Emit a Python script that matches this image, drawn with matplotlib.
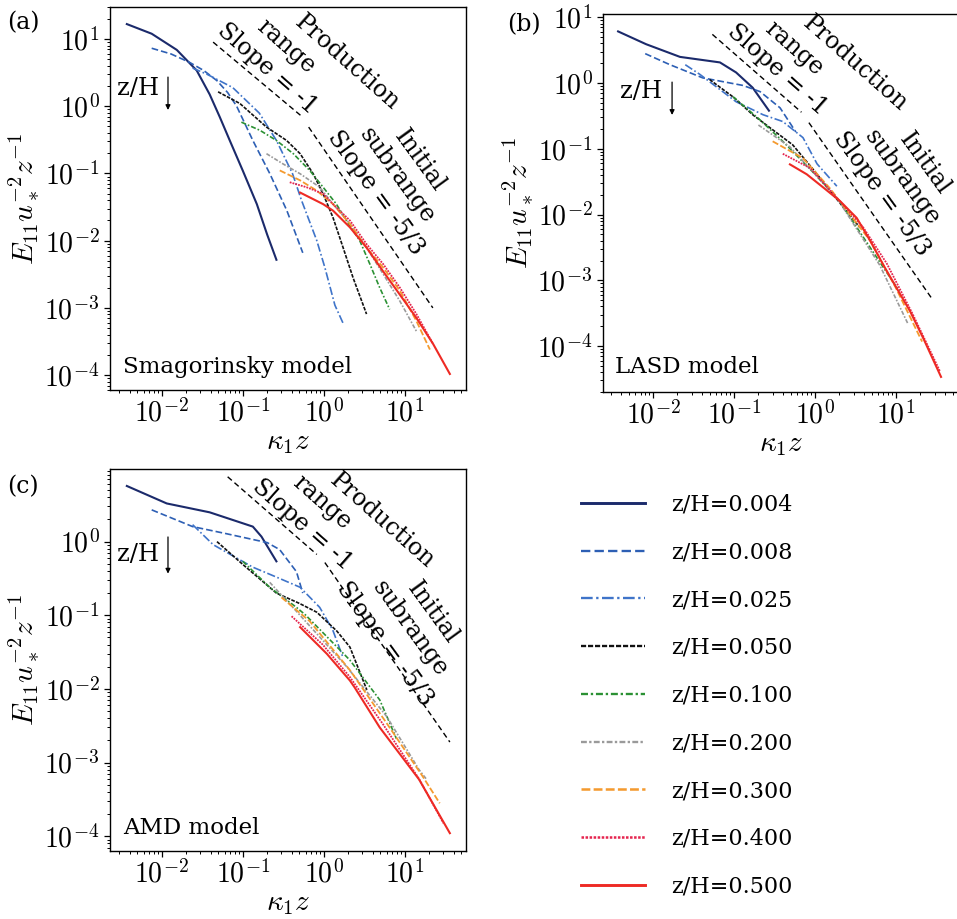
import matplotlib
matplotlib.use("Agg")
import matplotlib.pyplot as plt

plt.rcParams['font.family'] = ['DejaVu Serif']
plt.rcParams['mathtext.fontset'] = 'cm'

# ---------------- data ----------------
heights = ['z/H=0.004', 'z/H=0.008', 'z/H=0.025', 'z/H=0.050', 'z/H=0.100',
           'z/H=0.200', 'z/H=0.300', 'z/H=0.400', 'z/H=0.500']
colors = ['#1b2a6b', '#2d5fb4', '#3f74c9', '#111111', '#2b9134',
          '#9a9a9a', '#f49a2f', '#e5254f', '#ee2a24']

# panel (a) Smagorinsky
smag_x = [
    [0.0037, 0.0075, 0.0153, 0.027, 0.039, 0.052, 0.069, 0.1, 0.149, 0.2, 0.26],
    [0.0075, 0.013, 0.022, 0.033, 0.048, 0.065, 0.084, 0.133, 0.215, 0.35, 0.55],
    [0.024, 0.036, 0.075, 0.16, 0.26, 0.41, 0.53, 0.82, 1.03, 1.37, 1.72],
    [0.0495, 0.092, 0.196, 0.347, 0.51, 0.74, 0.98, 1.3, 1.73, 2.3, 3.37],
    [0.096, 0.162, 0.26, 0.42, 0.67, 0.98, 1.43, 1.9, 2.78, 3.7, 4.9, 6.5],
    [0.196, 0.31, 0.51, 0.89, 1.3, 2.1, 3.37, 5.4, 8.7, 13.9],
    [0.286, 0.51, 0.81, 1.3, 2.1, 3.37, 5.4, 8.7, 13.9, 20.4],
    [0.38, 0.61, 0.98, 1.3, 2.1, 3.37, 5.4, 8.7, 13.9, 22.4],
    [0.51, 0.98, 1.3, 2.1, 3.37, 5.4, 8.7, 13.9, 22.4, 36],
]
smag_y = [
    [16.7, 12, 6.9, 3.4, 1.5, 0.69, 0.31, 0.11, 0.035, 0.0123, 0.0052],
    [7.3, 6.0, 4.5, 3.4, 2.4, 1.6, 1.0, 0.31, 0.1, 0.028, 0.0066],
    [3.7, 3.0, 1.9, 0.79, 0.31, 0.1, 0.04, 0.01, 0.004, 0.0011, 0.0006],
    [1.64, 1.1, 0.49, 0.31, 0.197, 0.099, 0.05, 0.022, 0.0079, 0.0028, 0.00081],
    [0.58, 0.44, 0.31, 0.197, 0.111, 0.0625, 0.035, 0.02, 0.01, 0.0045, 0.002, 0.00095],
    [0.197, 0.14, 0.099, 0.0625, 0.035, 0.0178, 0.0079, 0.0032, 0.00126, 0.00045],
    [0.111, 0.079, 0.056, 0.035, 0.0178, 0.0079, 0.004, 0.0018, 0.00064, 0.00024],
    [0.074, 0.0625, 0.05, 0.035, 0.02, 0.0089, 0.0045, 0.002, 0.00081, 0.00029],
    [0.052, 0.035, 0.028, 0.0158, 0.0079, 0.0035, 0.00157, 0.00071, 0.00029, 0.000104],
]

# panel (b) LASD
lasd_x = [
    [0.0037, 0.0082, 0.0215, 0.067, 0.106, 0.17, 0.27],
    [0.008, 0.0162, 0.041, 0.129, 0.21, 0.37, 0.58],
    [0.025, 0.038, 0.106, 0.228, 0.4, 0.71, 1.06, 1.86],
    [0.05, 0.1, 0.17, 0.53, 1.0, 1.53, 3.6],
    [0.097, 0.2, 0.4, 1.0, 2.0, 6.3, 11],
    [0.2, 0.49, 1.86, 6.3, 14],
    [0.3, 0.71, 1.53, 4.8, 10, 21],
    [0.4, 0.87, 1.86, 3.9, 7.7, 16, 35],
    [0.49, 0.79, 1.27, 2.04, 3.27, 4.8, 7.0, 10.2, 14.9, 21.7, 36],
]
lasd_y = [
    [6.1, 3.9, 2.5, 2.06, 1.45, 0.85, 0.38],
    [2.8, 1.9, 1.2, 0.92, 0.74, 0.42, 0.18],
    [1.9, 1.35, 0.52, 0.33, 0.26, 0.148, 0.059, 0.027],
    [1.13, 0.6, 0.33, 0.115, 0.045, 0.023, 0.0063],
    [0.62, 0.29, 0.13, 0.041, 0.016, 0.0019, 0.00068],
    [0.23, 0.107, 0.018, 0.0017, 0.00022],
    [0.13, 0.072, 0.025, 0.004, 0.00076, 0.000117],
    [0.084, 0.051, 0.018, 0.0065, 0.0018, 0.00031, 0.000041],
    [0.058, 0.041, 0.0257, 0.016, 0.0089, 0.004, 0.0017, 0.00076, 0.00034, 0.000132, 0.000034],
]

# panel (c) AMD
amd_x = [
    [0.0037, 0.0115, 0.039, 0.133, 0.17, 0.26],
    [0.0075, 0.024, 0.063, 0.2, 0.285, 0.46, 0.55],
    [0.024, 0.043, 0.133, 0.26, 0.51, 0.89, 1.29, 1.72],
    [0.048, 0.1, 0.26, 0.5, 0.82, 1.45, 2.1, 3.4],
    [0.1, 0.215, 0.46, 0.6, 2.1, 4.9, 7.9],
    [0.215, 0.46, 1.92, 6.0, 15, 18.6],
    [0.3, 0.67, 2.1, 6.0, 16.6, 27],
    [0.4, 0.97, 2.1, 5.3, 15, 30],
    [0.51, 1.09, 2.1, 2.4, 4.9, 15, 36],
]
amd_y = [
    [5.7, 3.3, 2.5, 1.6, 1.17, 0.54],
    [2.7, 1.6, 1.28, 0.97, 0.78, 0.39, 0.2],
    [1.7, 0.91, 0.45, 0.33, 0.24, 0.128, 0.063, 0.027],
    [1.0, 0.49, 0.2, 0.145, 0.11, 0.061, 0.037, 0.0097],
    [0.54, 0.24, 0.128, 0.1, 0.0246, 0.0071, 0.0021],
    [0.28, 0.113, 0.02, 0.0042, 0.0008, 0.00059],
    [0.175, 0.083, 0.018, 0.0034, 0.00065, 0.00028],
    [0.097, 0.04, 0.0145, 0.0034, 0.0006, 0.00015],
    [0.069, 0.03, 0.013, 0.0105, 0.003, 0.00059, 0.00011],
]

# reference slope lines (end points)
ref1_x = {'a': [0.043, 0.54], 'b': [0.054, 0.68], 'c': [0.065, 0.82]}
ref1_y = {'a': [9.0, 0.70], 'b': [5.5, 0.36], 'c': [7.6, 0.67]}
ref53_x = {'a': [0.65, 22.2], 'b': [0.84, 28.6], 'c': [1.03, 36]}
ref53_y = {'a': [0.49, 1.0e-3], 'b': [0.25, 5.0e-4], 'c': [0.52, 1.9e-3]}

x_ticks = [1e-2, 1e-1, 1e0, 1e1]
x_tick_labels = [r'$10^{-2}$', r'$10^{-1}$', r'$10^{0}$', r'$10^{1}$']
y_ticks_ab = [1e-4, 1e-3, 1e-2, 1e-1, 1e0, 1e1]
y_tick_labels_ab = [r'$10^{-4}$', r'$10^{-3}$', r'$10^{-2}$', r'$10^{-1}$', r'$10^{0}$', r'$10^{1}$']
y_ticks_c = [1e-4, 1e-3, 1e-2, 1e-1, 1e0]
y_tick_labels_c = [r'$10^{-4}$', r'$10^{-3}$', r'$10^{-2}$', r'$10^{-1}$', r'$10^{0}$']

model_names = {'a': 'Smagorinsky model', 'b': 'LASD model', 'c': 'AMD model'}

# ---------------- styles ----------------
styles = [
    dict(ls='-', lw=1.5),
    dict(ls=(0, (4, 1.8)), lw=1.2),
    dict(ls=(0, (5, 1.5, 1, 1.5)), lw=1.2),
    dict(ls=(0, (2.2, 0.8)), lw=1.2),
    dict(ls=(0, (3, 1.2, 1, 1.2)), lw=1.2),
    dict(ls=(0, (2.5, 1, 1, 1)), lw=1.2),
    dict(ls=(0, (3.5, 1.3)), lw=1.3),
    dict(ls=(0, (1, 0.6)), lw=1.3),
    dict(ls='-', lw=1.5),
]

fig = plt.figure(figsize=(9.57, 9.19), dpi=100)
ax_a = fig.add_axes([0.1149, 0.5756, 0.3720, 0.4168])
ax_b = fig.add_axes([0.6301, 0.5734, 0.3720, 0.4113])
ax_c = fig.add_axes([0.1149, 0.0740, 0.3720, 0.4157])

panels = [
    ('a', ax_a, smag_x, smag_y, (0.00229, 56.9), (6.0e-5, 30.0), y_ticks_ab, y_tick_labels_ab),
    ('b', ax_b, lasd_x, lasd_y, (0.00241, 60.0), (2.0e-5, 11.2), y_ticks_ab, y_tick_labels_ab),
    ('c', ax_c, amd_x, amd_y, (0.00229, 56.9), (6.3e-5, 9.7), y_ticks_c, y_tick_labels_c),
]

# text positions (axes fraction) per panel
txt_pos = {
    'a': dict(prod=(0.666, 0.854), rng=(0.494, 0.896), s1=(0.441, 0.838),
              init=(0.871, 0.598), sub=(0.806, 0.559), s53=(0.747, 0.514),
              zh=(0.02, 0.786), arr=(0.163, 0.817, 0.731), model=(0.037, 0.06)),
    'b': dict(prod=(0.708, 0.868), rng=(0.537, 0.910), s1=(0.489, 0.854),
              init=(0.904, 0.603), sub=(0.840, 0.566), s53=(0.784, 0.524),
              zh=(0.048, 0.794), arr=(0.194, 0.820, 0.733), model=(0.034, 0.066)),
    'c': dict(prod=(0.764, 0.866), rng=(0.596, 0.912), s1=(0.539, 0.855),
              init=(0.907, 0.625), sub=(0.843, 0.581), s53=(0.772, 0.541),
              zh=(0.02, 0.775), arr=(0.163, 0.822, 0.726), model=(0.037, 0.06)),
}

handles = []
for key, ax, xs, ys, xl, yl, yt, ytl in panels:
    ax.plot(ref1_x[key], ref1_y[key], color='k', lw=1.0, ls=(0, (4, 2.5)))
    ax.plot(ref53_x[key], ref53_y[key], color='k', lw=1.0, ls=(0, (4, 2.5)))
    hs = []
    for i in range(len(heights)):
        h, = ax.plot(xs[i], ys[i], color=colors[i], label=heights[i], **styles[i])
        hs.append(h)
    if key == 'a':
        handles = hs
    ax.set_xscale('log')
    ax.set_yscale('log')
    ax.set_xlim(*xl)
    ax.set_ylim(*yl)
    ax.set_xticks(x_ticks, x_tick_labels)
    ax.set_yticks(yt, ytl)
    ax.tick_params(axis='both', which='major', labelsize=20, length=4, width=0.9)
    ax.tick_params(axis='x', which='major', pad=2.5)
    ax.tick_params(axis='both', which='minor', length=2.2, width=0.7)
    ax.set_xlabel(r'$\kappa_1 z$', fontsize=21, labelpad=0)
    ax.set_ylabel(r'$E_{11}u_*^{-2}z^{-1}$', fontsize=21, labelpad=2)
    for sp in ax.spines.values():
        sp.set_linewidth(1.0)

    p = txt_pos[key]
    kw = dict(transform=ax.transAxes, fontsize=17, ha='center', va='center',
              rotation_mode='anchor')
    ax.text(*p['prod'], 'Production', rotation=-41.5, **kw)
    ax.text(*p['rng'], 'range', rotation=-41.5, **kw)
    ax.text(*p['s1'], 'Slope = -1', rotation=-41.5, **kw)
    ax.text(*p['init'], 'Initial', rotation=-54, **kw)
    ax.text(*p['sub'], 'subrange', rotation=-54, **kw)
    ax.text(*p['s53'], 'Slope = -5/3', rotation=-54, **kw)
    ax.text(p['zh'][0], p['zh'][1], 'z/H', transform=ax.transAxes, fontsize=17.5,
            ha='left', va='center')
    ax_, y0, y1 = p['arr']
    ax.annotate('', xy=(ax_, y1), xytext=(ax_, y0), xycoords='axes fraction',
                textcoords='axes fraction',
                arrowprops=dict(arrowstyle='-|>', lw=0.9, color='k',
                                mutation_scale=7, shrinkA=0, shrinkB=0))
    ax.text(*p['model'], model_names[key], transform=ax.transAxes, fontsize=16.5,
            ha='left', va='center')

fig.text(0.007, 0.975, '(a)', fontsize=17, ha='left', va='center')
fig.text(0.530, 0.973, '(b)', fontsize=17, ha='left', va='center')
fig.text(0.007, 0.470, '(c)', fontsize=17, ha='left', va='center')

leg = fig.legend(handles, heights, loc='upper left', bbox_to_anchor=(0.607, 0.463),
                 frameon=False, fontsize=16, handlelength=2.9, handletextpad=1.15,
                 labelspacing=1.16, borderpad=0, borderaxespad=0)
for ln in leg.get_lines():
    ln.set_linewidth(ln.get_linewidth() * 1.4)

fig.savefig('out.png', dpi=100)
